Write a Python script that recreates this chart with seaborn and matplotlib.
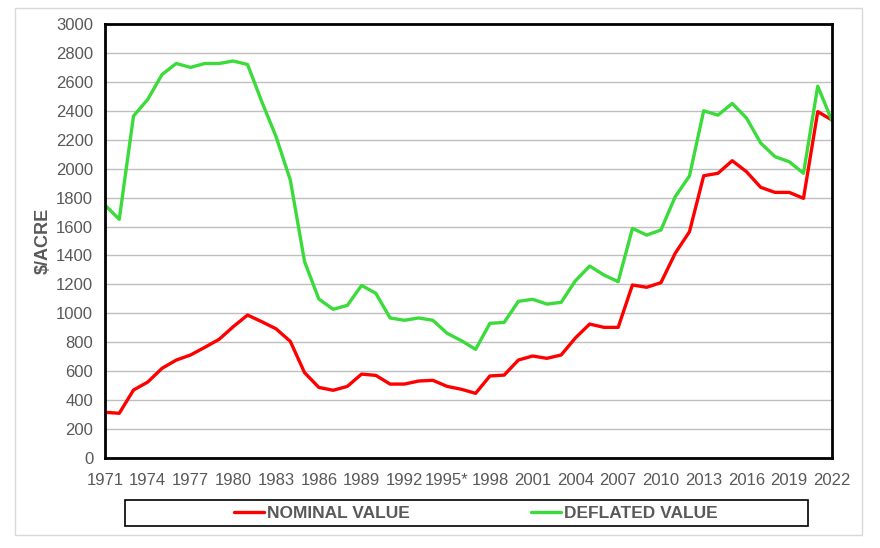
import pandas as pd
import matplotlib.pyplot as plt
import seaborn as sns
from matplotlib.patches import Rectangle

years = list(range(1971, 2023))

nominal = [316, 309, 470, 525, 620, 677, 712, 765, 820, 908,
           988, 942, 893, 806, 590, 488, 468, 495, 580, 571,
           511, 511, 532, 537, 495, 475, 447, 567, 573, 677,
           705, 689, 712, 830, 926, 903, 903, 1196, 1180, 1212,
           1415, 1564, 1951, 1968, 2055, 1979, 1871, 1836, 1836, 1795,
           2394, 2336]

deflated = [1748, 1650, 2364, 2479, 2651, 2727, 2700, 2727, 2727, 2744,
            2720, 2463, 2221, 1921, 1357, 1099, 1028, 1055, 1193, 1138,
            968, 952, 968, 952, 862, 811, 751, 931, 937, 1083,
            1097, 1064, 1076, 1225, 1327, 1265, 1219, 1587, 1541, 1576,
            1806, 1949, 2400, 2370, 2451, 2350, 2177, 2083, 2048, 1968,
            2570, 2331]

tick_years = list(range(1971, 2023, 3))
tick_labels = [("1995*" if y == 1995 else str(y)) for y in tick_years]

df = pd.DataFrame({"Year": years, "NOMINAL VALUE": nominal, "DEFLATED VALUE": deflated})
long_df = df.melt(id_vars="Year", var_name="Series", value_name="Value")

sns.set_style("white")
plt.rcParams['font.family'] = ['Liberation Sans Narrow', 'Liberation Sans', 'DejaVu Sans']

text_gray = "#595959"
colors = {"NOMINAL VALUE": "#FF0000", "DEFLATED VALUE": "#3BDB3B"}

fig = plt.figure(figsize=(8.8, 5.48), dpi=100)
ax = fig.add_axes([105 / 880, 1 - 458 / 548, (832 - 105) / 880, (458 - 24) / 548])

sns.lineplot(data=long_df, x="Year", y="Value", hue="Series", palette=colors,
             linewidth=2.4, ax=ax, legend=False)

ax.set_xlim(1971, 2022)
ax.set_ylim(0, 3000)
ax.set_yticks(range(0, 3001, 200))
ax.set_xticks(tick_years)
ax.set_xticklabels(tick_labels)
ax.yaxis.grid(True, color="#BFBFBF", linewidth=1)
ax.set_axisbelow(True)
for s in ax.spines.values():
    s.set_color("black")
    s.set_linewidth(2)
ax.tick_params(axis="both", colors="#BFBFBF", labelcolor=text_gray, labelsize=12,
               length=5, width=1, direction="out")
ax.tick_params(axis="x", pad=6)
ax.set_xlabel("")
ax.set_ylabel("$/ACRE", fontsize=13, fontweight="bold", color=text_gray, labelpad=3)

# legend box below the plot
fig.patches.append(Rectangle((125 / 880, 1 - 526 / 548), (808 - 125) / 880, 26 / 548,
                             transform=fig.transFigure, facecolor="white",
                             edgecolor="black", linewidth=1.2))
handles = [plt.Line2D([], [], color=colors[k], linewidth=2.4) for k in colors]
leg = fig.legend(handles, list(colors), loc="center", bbox_to_anchor=(476 / 880, 1 - 513 / 548),
                 ncol=2, frameon=False, handlelength=1.7, handletextpad=0.2,
                 columnspacing=7.0, prop={"size": 12.5, "weight": "bold"})
for t in leg.get_texts():
    t.set_color(text_gray)

# outer chart border
fig.patches.append(Rectangle((15 / 880, 1 - 535 / 548), (862 - 15) / 880, (535 - 8) / 548,
                             transform=fig.transFigure, facecolor="none",
                             edgecolor="#D9D9D9", linewidth=1))

fig.savefig("out.png", dpi=100)
plt.close(fig)
